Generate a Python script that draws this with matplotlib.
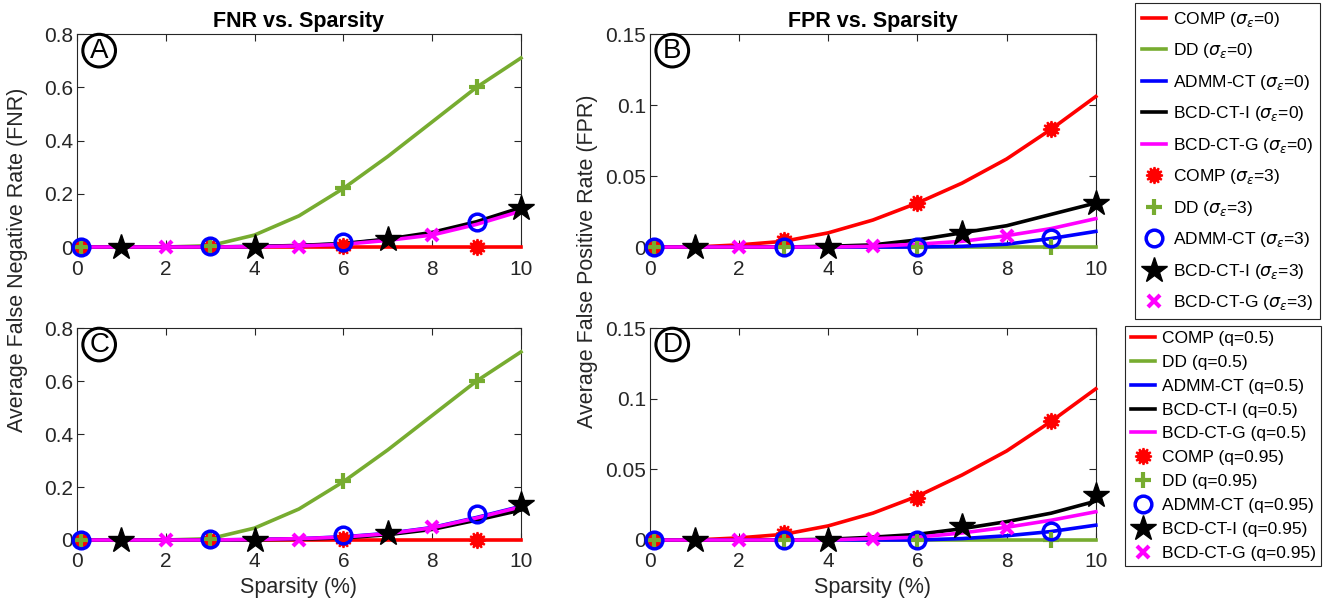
import numpy as np
import matplotlib
matplotlib.use('Agg')
import matplotlib.pyplot as plt
from matplotlib.lines import Line2D

plt.rcParams['font.family'] = ['Liberation Sans', 'DejaVu Sans']
plt.rcParams['mathtext.fontset'] = 'dejavusans'

# sparsity (%) where the curves are sampled
x = [0.1, 1, 2, 3, 4, 5, 6, 7, 8, 9, 10]
# x positions of the marker-only series
x_a = [0.1, 3, 6, 9]     # COMP, DD, ADMM-CT
x_b = [1, 4, 7, 10]      # BCD-CT-I
x_c = [2, 5, 8]          # BCD-CT-G

methods = ['COMP', 'DD', 'ADMM-CT', 'BCD-CT-I', 'BCD-CT-G']

# panel A: FNR, sigma_eps = 0 (lines) / 3 (markers)
fnr_a_comp = [0, 0, 0, 0, 0, 0, 0, 0, 0, 0, 0]
fnr_a_dd = [0, 0, 0, 0.005, 0.045, 0.117, 0.22, 0.34, 0.47, 0.60, 0.71]
fnr_a_admm = [0, 0, 0, 0, 0.002, 0.005, 0.012, 0.028, 0.05, 0.09, 0.14]
fnr_a_bcdi = [0, 0, 0, 0, 0.002, 0.006, 0.013, 0.03, 0.055, 0.095, 0.148]
fnr_a_bcdg = [0, 0, 0, 0, 0.001, 0.004, 0.01, 0.025, 0.045, 0.085, 0.135]
fnr_a_comp_m = [0, 0, 0.004, 0]
fnr_a_dd_m = [0, 0.003, 0.22, 0.60]
fnr_a_admm_m = [0, 0.003, 0.018, 0.093]
fnr_a_bcdi_m = [0, 0, 0.03, 0.148]
fnr_a_bcdg_m = [0, 0.001, 0.045]

# panel B: FPR, sigma_eps
fpr_b_comp = [0, 0, 0.0015, 0.004, 0.010, 0.019, 0.031, 0.045, 0.062, 0.083, 0.106]
fpr_b_dd = [0, 0, 0, 0, 0, 0, 0, 0, 0, 0, 0]
fpr_b_admm = [0, 0, 0, 0, 0, 0, 0, 0.0005, 0.002, 0.006, 0.011]
fpr_b_bcdi = [0, 0, 0, 0, 0.0005, 0.0015, 0.005, 0.010, 0.015, 0.023, 0.031]
fpr_b_bcdg = [0, 0, 0, 0, 0, 0.0005, 0.002, 0.004, 0.008, 0.013, 0.020]
fpr_b_comp_m = [0, 0.005, 0.031, 0.083]
fpr_b_dd_m = [0, 0, 0, 0]
fpr_b_admm_m = [0, 0, 0, 0.006]
fpr_b_bcdi_m = [0, 0, 0.010, 0.031]
fpr_b_bcdg_m = [0, 0.0005, 0.0075]

# panel C: FNR, q = 0.5 (lines) / 0.95 (markers)
fnr_c_comp = [0, 0, 0, 0, 0, 0, 0, 0, 0, 0, 0]
fnr_c_dd = [0, 0, 0, 0.005, 0.045, 0.117, 0.22, 0.34, 0.47, 0.60, 0.71]
fnr_c_admm = [0, 0, 0, 0, 0.002, 0.005, 0.012, 0.025, 0.047, 0.085, 0.127]
fnr_c_bcdi = [0, 0, 0, 0, 0.001, 0.003, 0.008, 0.02, 0.04, 0.075, 0.113]
fnr_c_bcdg = [0, 0, 0, 0, 0.002, 0.005, 0.011, 0.024, 0.046, 0.083, 0.125]
fnr_c_comp_m = [0, 0, 0.003, 0]
fnr_c_dd_m = [0, 0.003, 0.224, 0.60]
fnr_c_admm_m = [0, 0.003, 0.019, 0.097]
fnr_c_bcdi_m = [0, 0, 0.028, 0.136]
fnr_c_bcdg_m = [0, 0.001, 0.05]

# panel D: FPR, q
fpr_d_comp = [0, 0, 0.0015, 0.004, 0.010, 0.019, 0.031, 0.046, 0.063, 0.084, 0.107]
fpr_d_dd = [0, 0, 0, 0, 0, 0, 0, 0, 0, 0, 0]
fpr_d_admm = [0, 0, 0, 0, 0, 0, 0, 0.001, 0.003, 0.006, 0.0105]
fpr_d_bcdi = [0, 0, 0, 0, 0.0005, 0.002, 0.004, 0.008, 0.013, 0.019, 0.0275]
fpr_d_bcdg = [0, 0, 0, 0, 0, 0.001, 0.002, 0.005, 0.009, 0.014, 0.020]
fpr_d_comp_m = [0, 0.005, 0.030, 0.084]
fpr_d_dd_m = [0, 0, 0, 0]
fpr_d_admm_m = [0, 0, 0, 0.0064]
fpr_d_bcdi_m = [0, 0, 0.010, 0.032]
fpr_d_bcdg_m = [0, 0.0005, 0.0083]

colors = ['#ff0000', '#77ac30', '#0000ff', '#000000', '#ff00ff']
mx = [x_a, x_a, x_a, x_b, x_c]
# marker styles for the noisy series
mstyle = [
    dict(marker=(12, 1, 0), markersize=12, markeredgewidth=1.5),
    dict(marker='+', markersize=11, markeredgewidth=3),
    dict(marker='o', markersize=12, markeredgewidth=2.5, markerfacecolor='none'),
    dict(marker='*', markersize=19, markeredgewidth=1),
    dict(marker='x', markersize=9, markeredgewidth=3),
]


def draw_panel(ax, lines, marks, ymax, yticks, letter):
    for c, y in zip(colors, lines):
        ax.plot(x, y, color=c, lw=2.6, clip_on=False, zorder=3)
    for c, xm, ym, st in zip(colors, mx, marks, mstyle):
        ax.plot(xm, ym, ls='none', color=c, clip_on=False, zorder=4, **st)
    ax.set_xlim(0, 10)
    ax.set_ylim(0, ymax)
    ax.set_xticks([0, 2, 4, 6, 8, 10])
    ax.set_yticks(yticks)
    ax.set_yticklabels(['0' if t == 0 else ('%g' % t) for t in yticks])
    ax.tick_params(direction='in', top=True, right=True, labelsize=15,
                   colors='#262626', length=5, width=0.8)
    ax.tick_params(axis='x', pad=9)
    ax.tick_params(axis='y', pad=3)
    for sp in ax.spines.values():
        sp.set_color('#262626')
        sp.set_linewidth(0.8)
    ax.text(0.05, 0.922, letter, transform=ax.transAxes, fontsize=20,
            ha='center', va='center',
            bbox=dict(boxstyle='circle,pad=0.12', fc='white', ec='black', lw=2.2))


fig = plt.figure(figsize=(13.27, 6.01), dpi=100)
axA = fig.add_axes([0.058, 0.589, 0.3346, 0.3544])
axB = fig.add_axes([0.4898, 0.589, 0.336, 0.3544])
axC = fig.add_axes([0.058, 0.1015, 0.3346, 0.3527])
axD = fig.add_axes([0.4898, 0.1015, 0.336, 0.3527])

fnr_ticks = [0, 0.2, 0.4, 0.6, 0.8]
fpr_ticks = [0, 0.05, 0.1, 0.15]
draw_panel(axA, [fnr_a_comp, fnr_a_dd, fnr_a_admm, fnr_a_bcdi, fnr_a_bcdg],
           [fnr_a_comp_m, fnr_a_dd_m, fnr_a_admm_m, fnr_a_bcdi_m, fnr_a_bcdg_m],
           0.8, fnr_ticks, 'A')
draw_panel(axB, [fpr_b_comp, fpr_b_dd, fpr_b_admm, fpr_b_bcdi, fpr_b_bcdg],
           [fpr_b_comp_m, fpr_b_dd_m, fpr_b_admm_m, fpr_b_bcdi_m, fpr_b_bcdg_m],
           0.15, fpr_ticks, 'B')
draw_panel(axC, [fnr_c_comp, fnr_c_dd, fnr_c_admm, fnr_c_bcdi, fnr_c_bcdg],
           [fnr_c_comp_m, fnr_c_dd_m, fnr_c_admm_m, fnr_c_bcdi_m, fnr_c_bcdg_m],
           0.8, fnr_ticks, 'C')
draw_panel(axD, [fpr_d_comp, fpr_d_dd, fpr_d_admm, fpr_d_bcdi, fpr_d_bcdg],
           [fpr_d_comp_m, fpr_d_dd_m, fpr_d_admm_m, fpr_d_bcdi_m, fpr_d_bcdg_m],
           0.15, fpr_ticks, 'D')

axA.set_title('FNR vs. Sparsity', fontsize=15.5, fontweight='bold', pad=5)
axB.set_title('FPR vs. Sparsity', fontsize=15.5, fontweight='bold', pad=5)
axC.set_xlabel('Sparsity (%)', fontsize=15.5, color='#262626', labelpad=4)
axD.set_xlabel('Sparsity (%)', fontsize=15.5, color='#262626', labelpad=4)
fig.text(0.013, 0.568, 'Average False Negative Rate (FNR)', rotation=90,
         ha='center', va='center', fontsize=15.5, color='#262626')
fig.text(0.443, 0.566, 'Average False Positive Rate (FPR)', rotation=90,
         ha='center', va='center', fontsize=15.5, color='#262626')

# legends
h_lines = [Line2D([], [], color=c, lw=2.6) for c in colors]
h_marks = [Line2D([], [], ls='none', color=c, **st) for c, st in zip(colors, mstyle)]
lab1 = [m + r' ($\sigma_\epsilon$=0)' for m in methods] + \
       [m + r' ($\sigma_\epsilon$=3)' for m in methods]
lab2 = [m + ' (q=0.5)' for m in methods] + [m + ' (q=0.95)' for m in methods]

leg1 = fig.legend(h_lines + h_marks, lab1, loc='upper left',
                  bbox_to_anchor=(0.855, 0.995), fontsize=12.5,
                  handlelength=1.4, handletextpad=0.4, labelspacing=0.72,
                  borderpad=0.4, fancybox=False, framealpha=1,
                  edgecolor='#262626', borderaxespad=0)
leg1.get_frame().set_linewidth(0.8)
leg2 = fig.legend(h_lines + h_marks, lab2, loc='upper left',
                  bbox_to_anchor=(0.848, 0.458), fontsize=12.5,
                  handlelength=1.4, handletextpad=0.4, labelspacing=0.5,
                  borderpad=0.3, fancybox=False, framealpha=1,
                  edgecolor='#262626', borderaxespad=0)
leg2.get_frame().set_linewidth(0.8)

fig.savefig('out.png', dpi=100)
